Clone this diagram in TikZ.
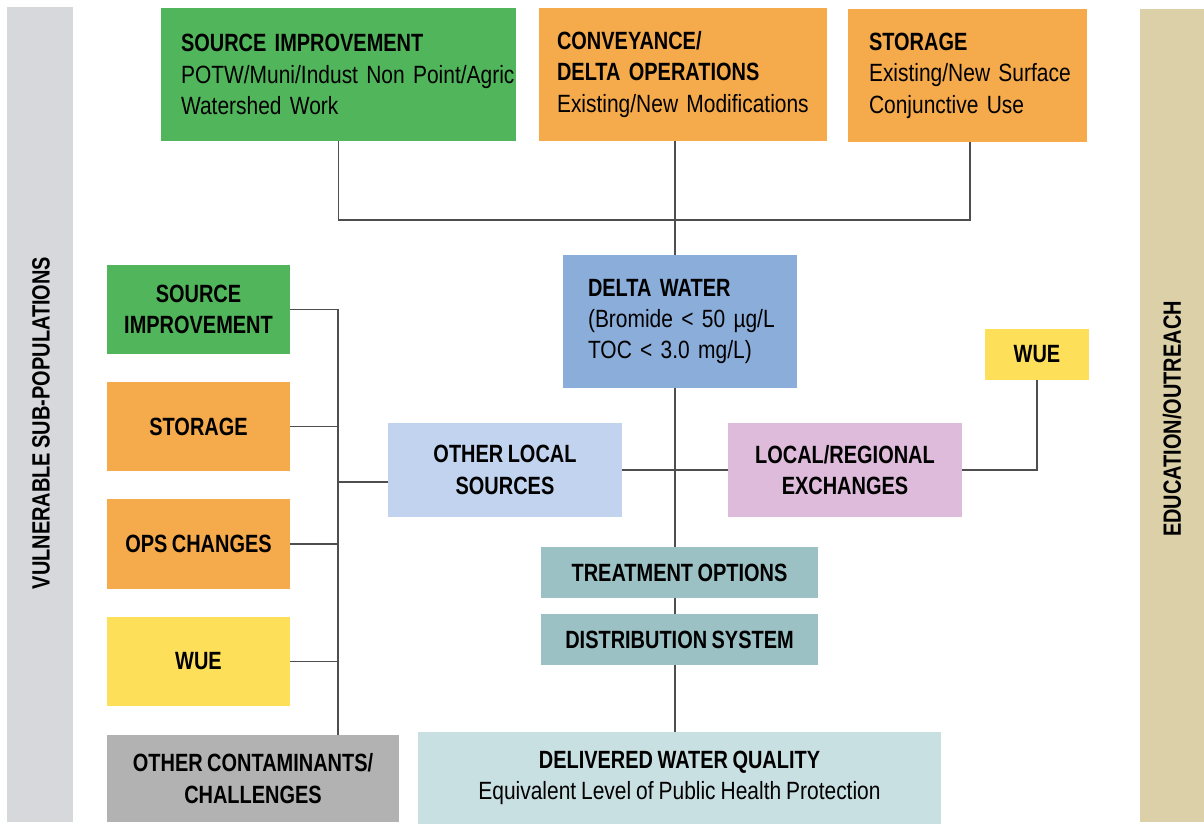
\documentclass[tikz,border=0pt]{standalone}
\usepackage{fontspec}
\setmainfont{Liberation Sans}[FakeStretch=0.84,WordSpace=0.85]
\newfontfamily\bfam{Liberation Sans}[FakeStretch=0.80,WordSpace=0.8]
\newcommand\hd{\bfam\bfseries}
\newcommand\rg{\rmfamily\mdseries}
\newcommand\fs{\fontsize{14.2}{17.9}\selectfont}
\definecolor{cgreen}{HTML}{51B55B}
\definecolor{corange}{HTML}{F5AA4C}
\definecolor{cdelta}{HTML}{8BADDA}
\definecolor{clblue}{HTML}{C1D3EE}
\definecolor{cpink}{HTML}{DEBADB}
\definecolor{cyellow}{HTML}{FEDF5A}
\definecolor{cteal}{HTML}{9BC1C5}
\definecolor{cpale}{HTML}{C9E0E3}
\definecolor{cgrey}{HTML}{B2B2B2}
\definecolor{cbarl}{HTML}{D7D8DC}
\definecolor{cbarr}{HTML}{DCD0A8}
\definecolor{lc}{HTML}{4E4E4E}
\newcommand\bx[8]{\node[boxs,fill=#6,minimum width={(#4-#2)*0.02cm},minimum height={(#5-#3)*0.02cm},#7] (#1) at ({(#2+#4)/2},{(#3+#5)/2}) {#8};}
\begin{document}
\begin{tikzpicture}[x=0.02cm,y=-0.02cm,
  boxs/.style={draw=none,inner sep=0pt,outer sep=0pt,font=\fs\hd,align=center},
  lt/.style={align=left,text width=#1,font=\fs},
  conn/.style={draw=lc,line width=0.85pt}]
\useasboundingbox[fill=white] (0,0) rectangle (1204,824);
% side bars
\bx{vbar}{7}{7}{73}{822}{cbarl}{}{}
\bx{ebar}{1140}{9}{1204}{822}{cbarr}{}{}
\node[rotate=90,font=\fs\hd] (vtext) at (41,423) {VULNERABLE SUB-POPULATIONS};
\node[rotate=90,font=\fs\hd] (etext) at (1172,419) {EDUCATION/OUTREACH};
% top row
\bx{src}{161}{8}{516}{141}{cgreen}{lt=6.3cm}{{\hd SOURCE IMPROVEMENT}\\\mbox{POTW/Muni/Indust Non Point/Agric}\\\mbox{Watershed Work}}
\bx{conv}{539}{8}{827}{141}{corange}{lt=5.04cm}{{\hd CONVEYANCE/}\\{\hd\mbox{DELTA OPERATIONS}}\\\mbox{Existing/New Modifications}}
\bx{stor}{848}{9}{1087}{142}{corange}{lt=3.94cm}{{\hd STORAGE}\\\mbox{Existing/New Surface}\\\mbox{Conjunctive Use}}
% centre column
\bx{dw}{563}{255}{797}{388}{cdelta}{lt=3.68cm}{{\hd DELTA WATER}\\\mbox{(Bromide < 50 µg/L}\\\mbox{TOC < 3.0 mg/L)}}
\bx{ols}{388}{423}{622}{517}{clblue}{}{OTHER LOCAL\\SOURCES}
\bx{lre}{728}{423}{962}{517}{cpink}{}{LOCAL/REGIONAL\\EXCHANGES}
\bx{wuer}{985}{329}{1089}{380}{cyellow}{}{WUE}
\bx{trt}{541}{547}{818}{598}{cteal}{}{TREATMENT OPTIONS}
\bx{dist}{541}{614}{818}{665}{cteal}{}{DISTRIBUTION SYSTEM}
\bx{dlv}{418}{732}{941}{824}{cpale}{}{DELIVERED WATER QUALITY\\{\rg Equivalent Level of Public Health Protection}}
% left column
\bx{lsrc}{107}{265}{290}{354}{cgreen}{}{SOURCE\\IMPROVEMENT}
\bx{lstor}{107}{382}{290}{471}{corange}{}{STORAGE}
\bx{lops}{107}{499}{290}{589}{corange}{}{OPS CHANGES}
\bx{lwue}{107}{617}{290}{706}{cyellow}{}{WUE}
\bx{oc}{107}{735}{399}{822}{cgrey}{}{OTHER CONTAMINANTS/\\CHALLENGES}
% connectors
\coordinate (tk) at (675,220);
\coordinate (tr) at (970,220);
\coordinate (bus) at (338,311);
\draw[conn] (src.south) |- (tk) -- (tr) -- (stor.south -| tr);
\draw[conn] (conv.south -| tk) -- (dw.north -| tk);
\draw[conn] (dw.south -| tk) -- (trt.north -| tk);
\draw[conn] (trt.south -| tk) -- (dist.north -| tk);
\draw[conn] (dist.south -| tk) -- (dlv.north -| tk);
\draw[conn] (ols.east) -- (lre.west);
\draw[conn] (lre.east) -| (wuer.south);
\draw[conn] (lsrc.east -| bus) -- (oc.north -| bus);
\draw[conn] (lsrc.east) -- (lsrc.east -| bus);
\draw[conn] (lstor.east) -- (lstor.east -| bus);
\draw[conn] (lops.east) -- (lops.east -| bus);
\draw[conn] (lwue.east) -- (lwue.east -| bus);
\draw[conn] ([yshift=-0.24cm]ols.west) -- ([yshift=-0.24cm]ols.west -| bus);
\end{tikzpicture}
\end{document}
